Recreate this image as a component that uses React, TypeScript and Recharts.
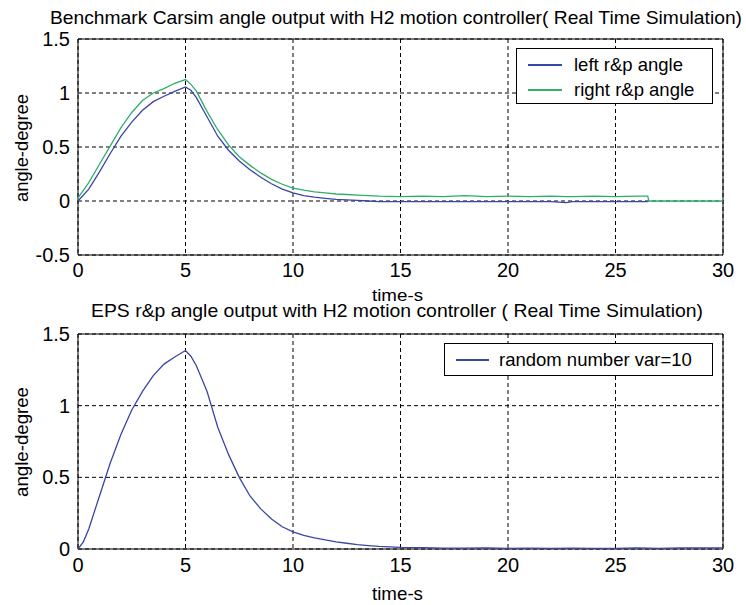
import {
  CartesianGrid,
  Legend,
  Line,
  LineChart,
  ReferenceArea,
  XAxis,
  YAxis,
} from 'recharts';

// top subplot: Carsim left / right rack & pinion angle
const timeTop = [
  0, 0.5, 1, 1.5, 2, 2.5, 3, 3.5, 4, 4.5, 5, 5.25, 5.5, 6, 6.5, 7, 7.5, 8, 8.5, 9, 9.5, 10, 10.5, 11, 11.5, 12, 12.5,
  13, 13.5, 14, 15, 16, 17, 18, 19, 20, 21, 22, 22.7, 23, 24, 25, 26, 26.5, 26.55, 30,
];
const leftAngle = [
  0, 0.11, 0.27, 0.44, 0.6, 0.73, 0.84, 0.92, 0.97, 1.015, 1.056, 1.025, 0.96, 0.78, 0.6, 0.47, 0.37, 0.29, 0.22,
  0.16, 0.11, 0.075, 0.05, 0.035, 0.025, 0.015, 0.01, 0.005, 0, -0.005, -0.005, -0.005, -0.005, -0.005, -0.005,
  -0.005, -0.005, -0.005, -0.015, -0.005, -0.005, -0.005, -0.005, -0.005, null, null,
];
const rightAngle = [
  0.03, 0.17, 0.34, 0.51, 0.68, 0.82, 0.93, 1.0, 1.04, 1.09, 1.124, 1.08, 1.02, 0.83, 0.66, 0.52, 0.41, 0.33, 0.26,
  0.2, 0.155, 0.12, 0.1, 0.085, 0.075, 0.065, 0.06, 0.055, 0.05, 0.045, 0.04, 0.045, 0.04, 0.05, 0.04, 0.045, 0.04,
  0.045, 0.04, 0.04, 0.045, 0.04, 0.045, 0.045, 0, 0,
];

// bottom subplot: EPS rack & pinion angle
const timeBottom = [
  0, 0.25, 0.5, 1, 1.5, 2, 2.5, 3, 3.5, 4, 4.5, 5, 5.25, 5.5, 6, 6.5, 7, 7.5, 8, 8.5, 9, 9.5, 10, 10.5, 11, 11.5,
  12, 12.5, 13, 13.5, 14, 15, 16, 17, 18, 19, 20, 21, 22, 23, 24, 25, 26, 27, 28, 29, 30,
];
const epsAngle = [
  0, 0.05, 0.14, 0.37, 0.6, 0.8, 0.97, 1.1, 1.21, 1.29, 1.34, 1.385, 1.345, 1.28, 1.1, 0.85, 0.66, 0.5, 0.37, 0.28,
  0.21, 0.155, 0.12, 0.095, 0.078, 0.063, 0.05, 0.04, 0.03, 0.024, 0.018, 0.012, 0.01, 0.006, 0.006, 0.008, 0.005,
  0.006, 0.005, 0.006, 0.005, 0.005, 0.008, 0.004, 0.008, 0.008, 0.008,
];

const xTicks = [0, 5, 10, 15, 20, 25, 30];
const yTicksTop = [-0.5, 0, 0.5, 1, 1.5];
const yTicksBottom = [0, 0.5, 1, 1.5];

const topData = timeTop.map((t, i) => ({ t, left: leftAngle[i], right: rightAngle[i] }));
const bottomData = timeBottom.map((t, i) => ({ t, eps: epsAngle[i] }));

const FONT = '"Liberation Sans", Arial, sans-serif';
const BLUE = '#3a46a6';
const GREEN = '#2fae6c';
const tickStyle = { fontSize: 20, fill: '#000', fontFamily: FONT };

function legendBox(rowGap: number, lineX: number, lineW: number, textX: number, firstRow: number) {
  return ({ payload }: any) => (
    <div
      style={{
        position: 'relative',
        width: '100%',
        height: '100%',
        boxSizing: 'border-box',
        border: '1px solid #000',
        background: '#fff',
        fontFamily: FONT,
        fontSize: 18.5,
        color: '#000',
      }}
    >
      {(payload || []).map((p: any, i: number) => (
        <div key={p.value} style={{ position: 'absolute', top: firstRow + i * rowGap - 12, left: 0, height: 24, width: '100%' }}>
          <div style={{ position: 'absolute', left: lineX, top: 11, width: lineW, height: 0, borderTop: `2px solid ${p.color}` }} />
          <span style={{ position: 'absolute', left: textX, top: 0, lineHeight: '24px', whiteSpace: 'nowrap' }}>{p.value}</span>
        </div>
      ))}
    </div>
  );
}

export default function App() {
  return (
    <div style={{ position: 'absolute', left: 0, top: 0, width: 746, height: 605, background: '#fff' }}>
      <div style={{ position: 'absolute', left: 0, top: 0 }}>
        <LineChart width={746} height={290} data={topData} margin={{ top: 39, right: 23, bottom: 0, left: 0 }}>
          <CartesianGrid stroke="#000" strokeDasharray="4 3" />
          <XAxis
            dataKey="t"
            type="number"
            domain={[0, 30]}
            ticks={xTicks}
            tickLine={false}
            axisLine={false}
            tickSize={0}
            tickMargin={8}
            height={35}
            tick={tickStyle}
          />
          <YAxis
            type="number"
            domain={[-0.5, 1.5]}
            ticks={yTicksTop}
            allowDataOverflow
            tickLine={false}
            axisLine={false}
            tickSize={0}
            tickMargin={8}
            width={78}
            tick={tickStyle}
          />
          <ReferenceArea x1={0} x2={30} y1={-0.5} y2={1.5} fill="none" stroke="#000" strokeWidth={1} />
          <Line dataKey="left" name="left r&p angle" stroke={BLUE} strokeWidth={1.3} dot={false} type="linear" isAnimationActive={false} />
          <Line dataKey="right" name="right r&p angle" stroke={GREEN} strokeWidth={1.3} dot={false} type="linear" isAnimationActive={false} />
          <Legend
            layout="horizontal"
            verticalAlign="middle"
            align="center"
            wrapperStyle={{ left: 516, top: 48, width: 197, height: 56 }}
            content={legendBox(25, 11, 34, 57, 16)}
          />
        </LineChart>
      </div>
      <div style={{ position: 'absolute', left: 0, top: 290 }}>
        <LineChart width={746} height={315} data={bottomData} margin={{ top: 44, right: 23, bottom: 0, left: 0 }}>
          <CartesianGrid stroke="#000" strokeDasharray="4 3" />
          <XAxis
            dataKey="t"
            type="number"
            domain={[0, 30]}
            ticks={xTicks}
            tickLine={false}
            axisLine={false}
            tickSize={0}
            tickMargin={9}
            height={56}
            tick={tickStyle}
          />
          <YAxis
            type="number"
            domain={[0, 1.5]}
            ticks={yTicksBottom}
            allowDataOverflow
            tickLine={false}
            axisLine={false}
            tickSize={0}
            tickMargin={8}
            width={78}
            tick={tickStyle}
          />
          <ReferenceArea x1={0} x2={30} y1={0} y2={1.5} fill="none" stroke="#000" strokeWidth={1} />
          <Line dataKey="eps" name="random number var=10" stroke={BLUE} strokeWidth={1.3} dot={false} type="linear" isAnimationActive={false} />
          <Legend
            layout="horizontal"
            verticalAlign="middle"
            align="center"
            wrapperStyle={{ left: 444, top: 53, width: 269, height: 33 }}
            content={legendBox(25, 11, 33, 54, 16)}
          />
        </LineChart>
      </div>
      <svg
        width={746}
        height={605}
        style={{ position: 'absolute', left: 0, top: 0, pointerEvents: 'none' }}
        fontFamily={FONT}
        fontSize={18.5}
        fill="#000"
      >
        <text x={50} y={24} textLength={692} lengthAdjust="spacingAndGlyphs">
          Benchmark Carsim angle output with H2 motion controller( Real Time Simulation)
        </text>
        <text x={372} y={301} fontSize={17} textLength={51} lengthAdjust="spacingAndGlyphs">
          time-s
        </text>
        <text x={91} y={317} textLength={612} lengthAdjust="spacingAndGlyphs">
          EPS r&amp;p angle output with H2 motion controller ( Real Time Simulation)
        </text>
        <text x={372} y={600} textLength={51} lengthAdjust="spacingAndGlyphs">
          time-s
        </text>
        <text transform="translate(28,202) rotate(-90)" textLength={108} lengthAdjust="spacingAndGlyphs">
          angle-degree
        </text>
        <text transform="translate(28,497) rotate(-90)" textLength={110} lengthAdjust="spacingAndGlyphs">
          angle-degree
        </text>
      </svg>
    </div>
  );
}
